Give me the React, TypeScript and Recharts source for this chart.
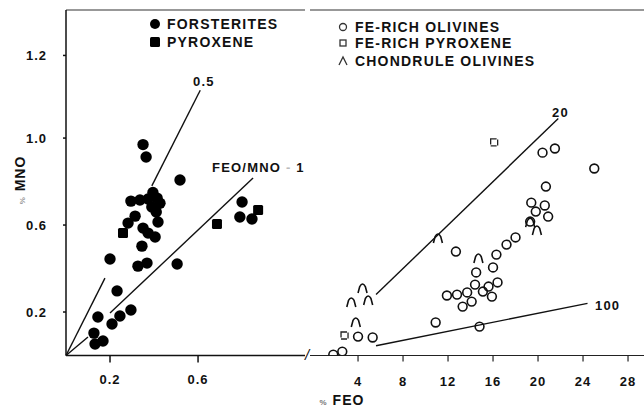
import React from 'react';
import { ScatterChart, Scatter, XAxis, YAxis, ReferenceLine } from 'recharts';

// ---- data (FeO wt%, MnO wt%) ----
const forsterites: [number, number][] = [
  [0.35, 0.97], [0.364, 0.913], [0.518, 0.807], [0.295, 0.71], [0.336, 0.715], [0.373, 0.72],
  [0.395, 0.75], [0.414, 0.724], [0.427, 0.7], [0.39, 0.683], [0.41, 0.66], [0.314, 0.641],
  [0.282, 0.609], [0.418, 0.614], [0.35, 0.586], [0.373, 0.563], [0.405, 0.545], [0.345, 0.503],
  [0.2, 0.444], [0.327, 0.411], [0.368, 0.425], [0.505, 0.421], [0.232, 0.297], [0.295, 0.209],
  [0.245, 0.182], [0.209, 0.145], [0.145, 0.177], [0.127, 0.103], [0.168, 0.067], [0.132, 0.053],
  [0.8, 0.706], [0.79, 0.637], [0.845, 0.628],
];
const pyroxene: [number, number][] = [[0.259, 0.563], [0.686, 0.605], [0.873, 0.669]];

const feRichOlivines: [number, number][] = [
  [20.4, 0.933], [21.5, 0.952], [25.0, 0.86], [20.7, 0.777], [19.4, 0.703], [20.6, 0.69],
  [19.8, 0.662], [20.9, 0.639], [19.3, 0.616], [18.0, 0.543], [17.2, 0.51], [16.3, 0.464],
  [16.0, 0.405], [12.7, 0.478], [14.5, 0.382], [14.4, 0.326], [16.4, 0.336], [15.6, 0.317],
  [15.1, 0.294], [15.9, 0.271], [13.7, 0.29], [12.8, 0.28], [11.9, 0.276], [14.1, 0.248],
  [13.3, 0.225], [10.9, 0.152], [14.8, 0.133], [5.3, 0.083], [4.0, 0.087], [2.6, 0.018], [1.8, 0.004],
];
const feRichPyroxene: [number, number][] = [[2.8, 0.092], [16.1, 0.98]];
const chondruleOlivines: [number, number][] = [
  [4.4, 0.308], [3.4, 0.244], [4.9, 0.253], [3.8, 0.152], [11.1, 0.538], [14.7, 0.446],
  [19.3, 0.611], [19.9, 0.575],
];

// ratio lines (segments, in data units)
const ratioHalf: [number, number][][] = [[[0, 0], [0.177, 0.356]], [[0.39, 0.78], [0.61, 1.22]]];
const ratioOne: [number, number][][] = [[[0, 0], [0.1, 0.085]], [[0.2, 0.195], [0.85, 0.816]]];
const ratioTwenty: [number, number][][] = [[[5.6, 0.28], [21.8, 1.09]]];
const ratioHundred: [number, number][][] = [[[5.6, 0.045], [24.4, 0.24]]];

const leftXTicks = [0.2, 0.6];
const rightXTicks = [4, 8, 12, 16, 20, 24, 28];
const yTickValues = [0.2, 0.6, 1.0, 1.38];
const yTickLabels = ['0.2', '0.6', '1.0', '1.2'];

const yMax = 1.589;
const leftXDomain: [number, number] = [0, 1.086];
const rightXDomain: [number, number] = [-0.27, 29.42];

const pts = (a: [number, number][]) => a.map(([x, y]) => ({ x, y }));

const FONT = '"Liberation Sans", Arial, sans-serif';
const tickStyle = { fontFamily: FONT, fontSize: 13, fontWeight: 700, fill: '#111', letterSpacing: 1 };

const FilledCircle = (p: any) => <circle cx={p.cx} cy={p.cy} r={5.7} fill="#000" />;
const FilledSquare = (p: any) => <rect x={p.cx - 5} y={p.cy - 5} width={10} height={10} rx={1.5} fill="#000" />;
const OpenCircle = (p: any) => <circle cx={p.cx} cy={p.cy} r={4.4} fill="none" stroke="#111" strokeWidth={1.6} />;
const OpenSquare = (p: any) => (
  <rect x={p.cx - 3.5} y={p.cy - 3.5} width={7} height={7} fill="none" stroke="#222" strokeWidth={1.3} strokeDasharray="6 1.5" />
);
const Arch = (p: any) => (
  <path d={`M ${p.cx - 4.5} ${p.cy + 4.5} L ${p.cx - 2.8} ${p.cy - 2} Q ${p.cx} ${p.cy - 7} ${p.cx + 2.8} ${p.cy - 2} L ${p.cx + 4.5} ${p.cy + 4.5}`}
    fill="none" stroke="#111" strokeWidth={1.6} />
);

const seg = (s: [number, number][]) => s.map(([x, y]) => ({ x, y }));

const legendText: React.CSSProperties = {
  position: 'absolute', fontFamily: FONT, fontWeight: 700, fontSize: 14, letterSpacing: 1.2,
  color: '#111', lineHeight: '14px', whiteSpace: 'nowrap',
};

export default function App() {
  return (
    <div style={{ position: 'absolute', left: 0, top: 0, width: 644, height: 409, background: '#fff' }}>
      {/* left panel */}
      <div style={{ position: 'absolute', left: 0, top: 0 }}>
        <ScatterChart width={307} height={409} margin={{ top: 10, right: 2, bottom: 23.5, left: 0 }}>
          <XAxis type="number" dataKey="x" domain={leftXDomain} ticks={leftXTicks} allowDataOverflow
            height={30} tickSize={7} tickMargin={12} tick={tickStyle} stroke="#111" strokeWidth={1.5}
            tickFormatter={(v: number) => v.toFixed(1)} />
          <YAxis type="number" dataKey="y" domain={[0, yMax]} ticks={yTickValues} allowDataOverflow
            width={66} tickSize={3} tickMargin={16} tick={tickStyle} stroke="#111" strokeWidth={1.5}
            tickFormatter={(v: number, i: number) => yTickLabels[i]} />
          <ReferenceLine y={yMax} stroke="#333" strokeWidth={1.2} ifOverflow="visible" />
          {ratioHalf.concat(ratioOne).map((s, i) => (
            <ReferenceLine key={i} segment={seg(s)} stroke="#111" strokeWidth={1.4} ifOverflow="visible" />
          ))}
          <Scatter data={pts(forsterites)} shape={FilledCircle} isAnimationActive={false} />
          <Scatter data={pts(pyroxene)} shape={FilledSquare} isAnimationActive={false} />
        </ScatterChart>
      </div>
      {/* right panel */}
      <div style={{ position: 'absolute', left: 307, top: 0 }}>
        <ScatterChart width={337} height={409} margin={{ top: 10, right: 0, bottom: 23.5, left: 3 }}>
          <XAxis type="number" dataKey="x" domain={rightXDomain} ticks={rightXTicks} allowDataOverflow
            height={30} tickSize={6} tickMargin={15} tick={tickStyle} stroke="#222" strokeWidth={1.2} />
          <YAxis type="number" dataKey="y" domain={[0, yMax]} hide allowDataOverflow />
          <ReferenceLine y={yMax} stroke="#333" strokeWidth={1.2} ifOverflow="visible" />
          {ratioTwenty.concat(ratioHundred).map((s, i) => (
            <ReferenceLine key={i} segment={seg(s)} stroke="#111" strokeWidth={1.4} ifOverflow="visible" />
          ))}
          <Scatter data={pts(feRichOlivines)} shape={OpenCircle} isAnimationActive={false} />
          <Scatter data={pts(feRichPyroxene)} shape={OpenSquare} isAnimationActive={false} />
          <Scatter data={pts(chondruleOlivines)} shape={Arch} isAnimationActive={false} />
        </ScatterChart>
      </div>

      {/* axis break */}
      <div style={{ ...legendText, left: 305, top: 348, fontSize: 15, fontStyle: 'italic', fontWeight: 400 }}>/</div>

      {/* line labels */}
      <div style={{ ...legendText, left: 193, top: 75, fontSize: 13 }}>0.5</div>
      <div style={{ ...legendText, left: 212, top: 161, fontSize: 13 }}>FEO/MNO <span style={{ color: '#bbb' }}>-</span> 1</div>
      <div style={{ ...legendText, left: 552, top: 106, fontSize: 13 }}>20</div>
      <div style={{ ...legendText, left: 595, top: 299, fontSize: 13 }}>100</div>

      {/* legends */}
      <svg style={{ position: 'absolute', left: 0, top: 0 }} width={644} height={409}>
        <circle cx={155} cy={24} r={5} fill="#000" />
        <rect x={150} y={37} width={10} height={10} rx={1.5} fill="#000" />
        <circle cx={343} cy={27} r={3.5} fill="none" stroke="#333" strokeWidth={1.3} />
        <rect x={340} y={40} width={6} height={6} fill="none" stroke="#333" strokeWidth={1.3} />
        <path d="M 339 65 L 343 57 L 347 65" fill="none" stroke="#333" strokeWidth={1.3} />
        {/* y axis label */}
        <text transform="translate(25,180) rotate(-90)" textAnchor="middle"
          style={{ fontFamily: FONT, fontWeight: 700, fontSize: 14, fill: '#111', letterSpacing: 1 }}>
          <tspan style={{ fontSize: 8, fill: '#999' }}>%</tspan> MNO
        </text>
        {/* x axis label */}
        <text x={342} y={405} textAnchor="middle"
          style={{ fontFamily: FONT, fontWeight: 700, fontSize: 14, fill: '#111', letterSpacing: 1 }}>
          <tspan style={{ fontSize: 8, fill: '#777' }}>%</tspan> FEO
        </text>
      </svg>
      <div style={{ ...legendText, left: 167, top: 17 }}>FORSTERITES</div>
      <div style={{ ...legendText, left: 167, top: 35 }}>PYROXENE</div>
      <div style={{ ...legendText, left: 355, top: 20 }}>FE-RICH OLIVINES</div>
      <div style={{ ...legendText, left: 355, top: 36 }}>FE-RICH PYROXENE</div>
      <div style={{ ...legendText, left: 355, top: 54 }}>CHONDRULE OLIVINES</div>
    </div>
  );
}
